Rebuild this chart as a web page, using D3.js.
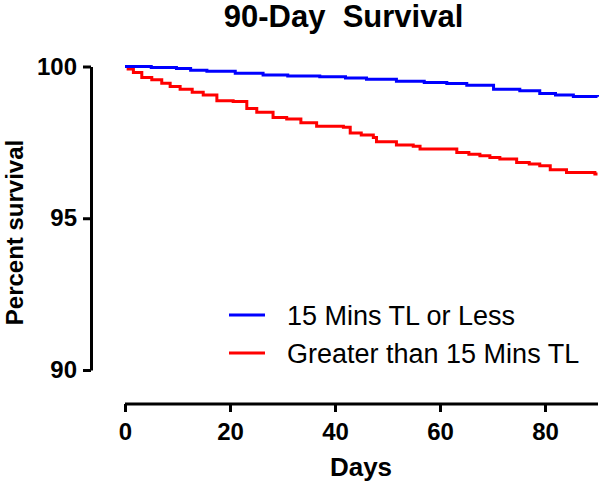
<!DOCTYPE html>
<html>
<head>
<meta charset="utf-8">
<script src="https://cdn.jsdelivr.net/npm/d3@7"></script>
<style>
  html, body { margin: 0; padding: 0; background: #fff; }
  svg { display: block; font-family: "Liberation Sans", Arial, sans-serif; }
  text { white-space: pre; }
</style>
</head>
<body>
<svg id="chart" width="600" height="485"></svg>
<script>
// ---- Data ----
const seriesNames = ["15 Mins TL or Less", "Greater than 15 Mins TL"];
const seriesColors = ["#0000ff", "#ff0000"];

const blueDays = [0, 5, 9.8, 12.5, 15.6, 21, 26.3, 31, 37.1, 42, 46, 51.7, 57, 61.3, 65.1, 70.2, 75.2, 79, 82, 85.4, 90];
const blueVals = [100, 99.97, 99.93, 99.88, 99.84, 99.78, 99.72, 99.69, 99.66, 99.62, 99.58, 99.51, 99.47, 99.44, 99.38, 99.25, 99.2, 99.11, 99.06, 99.01, 99.0];

const redDays = [0, 0.6, 1.6, 3.2, 5.1, 7, 8.6, 10.5, 12.8, 14.9, 17.5, 20.6, 23.2, 25.1, 28.2, 30.8, 33.5, 36.5, 41.6, 42.9, 45, 47.3, 47.9, 51.7, 54.9, 56.2, 61.3, 63.2, 65.5, 67.6, 69.5, 71.4, 74.6, 77, 79, 81, 84.1, 87.3, 89.5, 90];
const redVals = [100, 99.92, 99.8, 99.64, 99.56, 99.45, 99.34, 99.25, 99.15, 99.06, 98.87, 98.85, 98.62, 98.49, 98.32, 98.27, 98.15, 98.03, 98.0, 97.81, 97.74, 97.66, 97.52, 97.41, 97.37, 97.28, 97.28, 97.17, 97.11, 97.06, 97.0, 96.95, 96.84, 96.79, 96.73, 96.6, 96.51, 96.51, 96.46, 96.46];

const xTicks = [0, 20, 40, 60, 80];
const yTicks = [90, 95, 100];

const titleText = "90-Day  Survival";
const xLabel = "Days";
const yLabel = "Percent survival";

// ---- Drawing ----
const svg = d3.select("#chart");
const x = d3.scaleLinear().domain([0, 90]).range([125, 597.5]);
const y = d3.scaleLinear().domain([90, 100]).range([370, 66.5]);

// Title
svg.append("text")
  .attr("x", 343.5).attr("y", 27)
  .attr("text-anchor", "middle")
  .attr("font-size", 31).attr("font-weight", "bold")
  .attr("xml:space", "preserve")
  .text(titleText);

// Y axis
const yAxis = svg.append("g")
  .attr("transform", "translate(91,0)")
  .call(d3.axisLeft(y).tickValues(yTicks).tickSize(8).tickSizeOuter(0).tickPadding(6));
yAxis.select(".domain").attr("stroke", "#000").attr("stroke-width", 3);
yAxis.selectAll(".tick line").attr("stroke", "#000").attr("stroke-width", 3);
yAxis.selectAll(".tick text")
  .attr("font-size", 24).attr("font-weight", "bold")
  .attr("font-family", "Liberation Sans, Arial, sans-serif")
  .attr("fill", "#000");

// X axis
const xAxis = svg.append("g")
  .attr("transform", "translate(0,404)")
  .call(d3.axisBottom(x).tickValues(xTicks).tickSize(8).tickSizeOuter(0).tickPadding(11));
xAxis.select(".domain").attr("stroke", "#000").attr("stroke-width", 3)
  .attr("d", `M${x(0)},0H598`);
xAxis.selectAll(".tick line").attr("stroke", "#000").attr("stroke-width", 3);
xAxis.selectAll(".tick text")
  .attr("font-size", 24).attr("font-weight", "bold")
  .attr("font-family", "Liberation Sans, Arial, sans-serif")
  .attr("fill", "#000");

// Axis titles
svg.append("text")
  .attr("x", 361).attr("y", 476)
  .attr("text-anchor", "middle")
  .attr("font-size", 26).attr("font-weight", "bold")
  .text(xLabel);

svg.append("text")
  .attr("transform", "translate(23,232.5) rotate(-90)")
  .attr("text-anchor", "middle")
  .attr("font-size", 24).attr("font-weight", "bold")
  .text(yLabel);

// Survival curves
const line = d3.line()
  .x(d => x(d[0]))
  .y(d => y(d[1]))
  .curve(d3.curveStepAfter);

const seriesData = [
  d3.zip(blueDays, blueVals),
  d3.zip(redDays, redVals)
];

[1, 0].forEach(i => {
  svg.append("path")
    .datum(seriesData[i])
    .attr("fill", "none")
    .attr("stroke", seriesColors[i])
    .attr("stroke-width", 3)
    .attr("d", line);
});

// Legend
const legendY = [315, 353];
seriesNames.forEach((name, i) => {
  svg.append("line")
    .attr("x1", 229).attr("x2", 265)
    .attr("y1", legendY[i]).attr("y2", legendY[i])
    .attr("stroke", seriesColors[i]).attr("stroke-width", 3);
  svg.append("text")
    .attr("x", 287).attr("y", legendY[i] + 10)
    .attr("font-size", 27)
    .attr("fill", "#000")
    .text(name);
});
</script>
</body>
</html>
